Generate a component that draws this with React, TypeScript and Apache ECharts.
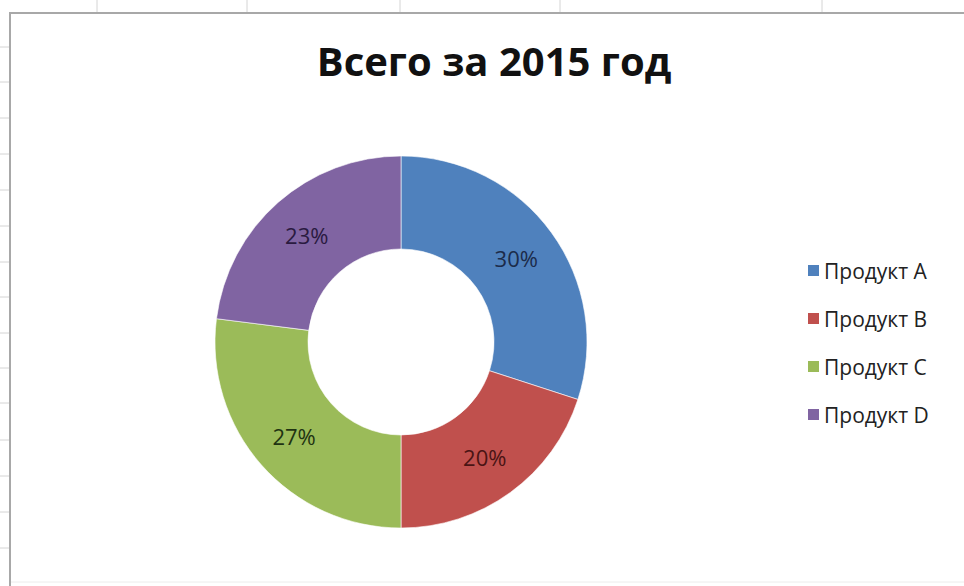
import React, { useEffect, useRef } from "react";
import * as echarts from "echarts";

const titleText = "Всего за 2015 год";
const categories = ["Продукт A", "Продукт B", "Продукт C", "Продукт D"];
const values = [30, 20, 27, 23];
const sliceColors = ["#4F81BD", "#C0504D", "#9BBB59", "#8064A2"];
const labelColors = ["#1c2b4a", "#4a1414", "#1f3312", "#2a1a40"];

const topTicksX = [97, 247, 400, 560, 822];
const leftTicksY = [47, 82, 118, 154, 190, 226, 262, 297, 333, 368, 403, 440, 476, 512, 548];

export default function App() {
  const ref = useRef<HTMLDivElement>(null);
  useEffect(() => {
    if (!ref.current) return;
    const chart = echarts.init(ref.current, null, { renderer: "svg" });
    const graphics: any[] = [];
    topTicksX.forEach((x) => {
      graphics.push({
        type: "line",
        shape: { x1: x, y1: 0, x2: x, y2: 12 },
        style: { stroke: "#d4d4d4", lineWidth: 1 },
        silent: true,
      });
    });
    leftTicksY.forEach((y) => {
      graphics.push({
        type: "line",
        shape: { x1: 0, y1: y, x2: 9, y2: y },
        style: { stroke: "#d4d4d4", lineWidth: 1 },
        silent: true,
      });
    });
    graphics.push({
      type: "line",
      shape: { x1: 9, y1: 13, x2: 964, y2: 13 },
      style: { stroke: "#a8a8a8", lineWidth: 2 },
      silent: true,
    });
    graphics.push({
      type: "line",
      shape: { x1: 10, y1: 12, x2: 10, y2: 586 },
      style: { stroke: "#a8a8a8", lineWidth: 2 },
      silent: true,
    });
    graphics.push({
      type: "line",
      shape: { x1: 11, y1: 582, x2: 964, y2: 582 },
      style: { stroke: "#ececec", lineWidth: 1 },
      silent: true,
    });

    chart.setOption({
      animation: false,
      backgroundColor: "#ffffff",
      title: {
        text: titleText,
        left: 489,
        textAlign: "center",
        top: 35,
        textStyle: {
          fontFamily: "Open Sans",
          fontWeight: "bold",
          fontSize: 40,
          color: "#111111",
        },
      },
      legend: {
        orient: "vertical",
        left: 801,
        top: 255,
        itemGap: 27,
        itemWidth: 13,
        itemHeight: 13,
        icon: "rect",
        data: categories,
        textStyle: {
          fontFamily: "Open Sans",
          fontSize: 21,
          color: "#222222",
          padding: [0, 0, 0, -1],
        },
      },
      graphic: graphics,
      series: [
        {
          type: "pie",
          center: [401, 342],
          radius: [93, 186],
          startAngle: 90,
          clockwise: true,
          avoidLabelOverlap: false,
          label: {
            show: true,
            position: "inside",
            formatter: (p: any) => `${p.value}%`,
            fontFamily: "Open Sans",
            fontSize: 22,
          },
          labelLine: { show: false },
          emphasis: { disabled: true },
          itemStyle: { borderColor: "#ffffff", borderWidth: 0.6 },
          data: categories.map((name, i) => ({
            name,
            value: values[i],
            itemStyle: { color: sliceColors[i] },
            label: { color: labelColors[i] },
          })),
        },
      ],
    });
    return () => chart.dispose();
  }, []);
  return (
    <div
      ref={ref}
      style={{ position: "fixed", left: 0, top: 0, width: 964, height: 586 }}
    />
  );
}
